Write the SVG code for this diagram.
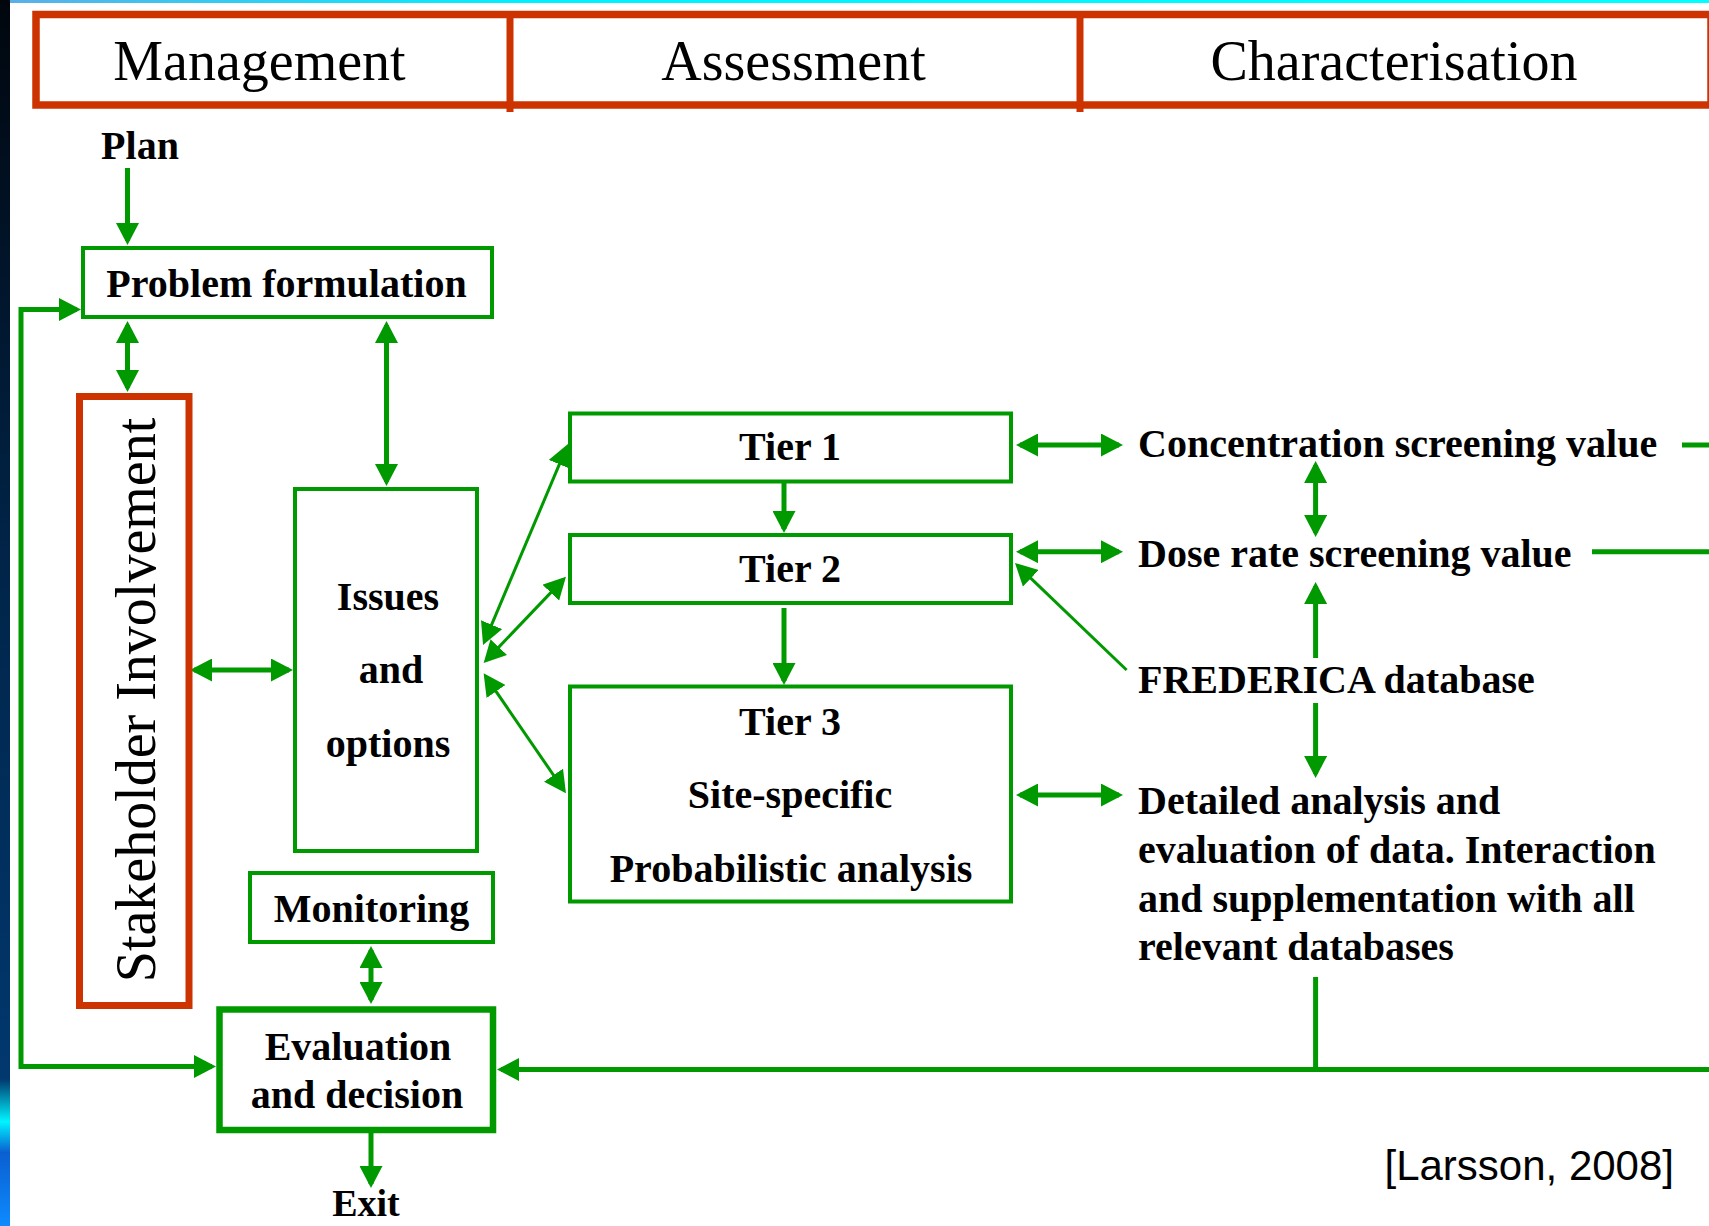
<svg xmlns="http://www.w3.org/2000/svg" width="1709" height="1226" viewBox="0 0 1709 1226">
<style>
.box{fill:#fff;stroke:#009900;stroke-width:4}
.red{fill:none;stroke:#cc3300;stroke-width:7.5}
.t{font-family:"Liberation Serif","Times New Roman",serif;font-weight:bold;font-size:40px;fill:#000}
.tm{text-anchor:middle}
.h{font-family:"Liberation Serif","Times New Roman",serif;font-size:56px;fill:#000;text-anchor:middle}
.c{fill:none;stroke:#009900;stroke-width:5}
.thin{stroke-width:3}
.a1{marker-end:url(#ah)}
.a2{marker-start:url(#ah);marker-end:url(#ah)}
</style>
<defs>
<marker id="ah" viewBox="0 0 22 23" refX="18" refY="11.5" markerWidth="22" markerHeight="23" markerUnits="userSpaceOnUse" orient="auto-start-reverse">
<path d="M0,0 L22,11.5 L0,23 Z" fill="#009900"/>
</marker>
<linearGradient id="lg" x1="0" y1="0" x2="0" y2="1">
<stop offset="0" stop-color="#01060d"/>
<stop offset="0.45" stop-color="#012448"/>
<stop offset="0.88" stop-color="#01386e"/>
<stop offset="0.915" stop-color="#00f4ff"/>
<stop offset="0.94" stop-color="#0a5fd0"/>
<stop offset="1" stop-color="#0d8bff"/>
</linearGradient>
<linearGradient id="tg" x1="0" y1="0" x2="1" y2="0">
<stop offset="0" stop-color="#5ab0e8"/>
<stop offset="0.3" stop-color="#00f0ff"/>
<stop offset="1" stop-color="#00ffff"/>
</linearGradient>
</defs>
<rect x="0" y="0" width="1709" height="1226" fill="#fff"/>
<rect x="10" y="0" width="1699" height="3" fill="url(#tg)"/>
<rect x="0" y="0" width="10" height="1226" fill="url(#lg)"/>

<g id="header">
<rect class="red" x="36" y="14.5" width="1675" height="90.5"/>
<line x1="510" y1="11" x2="510" y2="112" stroke="#cc3300" stroke-width="7"/>
<line x1="1080" y1="11" x2="1080" y2="112" stroke="#cc3300" stroke-width="7"/>
<text class="h" x="259.5" y="80">Management</text>
<text class="h" x="793.5" y="80">Assessment</text>
<text class="h" x="1394" y="80">Characterisation</text>
</g>

<g id="connectors">
<path class="c a1" d="M127.5,168 V241"/>
<path class="c a2" d="M127.5,325 V388"/>
<path class="c a2" d="M386.5,325 V482"/>
<path class="c a2" d="M212,1066.5 H21 V309.5 H77"/>
<path class="c a2" d="M194,670 H289"/>
<path class="c thin a2" d="M484.6,641.3 L566.4,447.7"/>
<path class="c thin a2" d="M486.4,660.1 L563.2,579.6"/>
<path class="c thin a2" d="M485.9,676.6 L563.7,790"/>
<path class="c a1" d="M784,483 V529"/>
<path class="c a1" d="M784,608 V681"/>
<path class="c a2" d="M1020,445 H1119"/>
<path class="c a2" d="M1315.6,465 V533"/>
<path class="c a2" d="M1020,551.7 H1119"/>
<path class="c thin a1" d="M1126.6,670 L1017.9,565.8"/>
<path class="c a1" d="M1315.6,658 V586"/>
<path class="c a1" d="M1315.6,703 V774"/>
<path class="c a2" d="M1020,795 H1119"/>
<path class="c" d="M1682,445 H1712"/>
<path class="c" d="M1592,551.7 H1712"/>
<path class="c a1" d="M1712,1069.5 H501"/>
<path class="c" d="M1315.6,977 V1069.5"/>
<path class="c a2" d="M371,950 V1000"/>
<path class="c a1" d="M371,1133 V1184"/>
</g>

<g id="plan"><text class="t tm" x="140" y="159">Plan</text></g>

<g id="problem-formulation">
<rect class="box" x="83" y="248" width="409" height="69"/>
<text class="t tm" x="286.5" y="297">Problem formulation</text>
</g>

<g id="stakeholder">
<rect class="red" x="79.5" y="396.5" width="109.5" height="609" style="stroke-width:7"/>
<text transform="translate(155,700) rotate(-90)" font-family="'Liberation Serif', 'Times New Roman', serif" font-size="56" text-anchor="middle">Stakeholder Involvement</text>
</g>

<g id="issues">
<rect class="box" x="295" y="489" width="182" height="362"/>
<text class="t tm" x="388" y="610">Issues</text>
<text class="t tm" x="391" y="683">and</text>
<text class="t tm" x="388" y="757">options</text>
</g>

<g id="tier1">
<rect class="box" x="570" y="413.5" width="441" height="68"/>
<text class="t tm" x="790" y="460">Tier 1</text>
</g>

<g id="tier2">
<rect class="box" x="570" y="535" width="441" height="68"/>
<text class="t tm" x="790" y="582">Tier 2</text>
</g>

<g id="tier3">
<rect class="box" x="570" y="686.5" width="441" height="215"/>
<text class="t tm" x="790" y="735">Tier 3</text>
<text class="t tm" x="790" y="808">Site-specific</text>
<text class="t tm" x="791" y="882">Probabilistic analysis</text>
</g>

<g id="monitoring">
<rect class="box" x="250" y="873" width="243" height="69"/>
<text class="t tm" x="371.6" y="921.7">Monitoring</text>
</g>

<g id="evaluation">
<rect class="box" x="219.5" y="1009.5" width="273.5" height="120.5" style="stroke-width:6.5"/>
<text class="t tm" x="358" y="1060">Evaluation</text>
<text class="t tm" x="357" y="1108">and decision</text>
</g>

<g id="exit"><text class="t tm" x="366" y="1216" style="font-size:38px">Exit</text></g>

<g id="concentration"><text class="t" x="1138" y="456.7">Concentration screening value</text></g>
<g id="dose-rate"><text class="t" x="1138" y="566.7">Dose rate screening value</text></g>
<g id="frederica"><text class="t" x="1138" y="693">FREDERICA database</text></g>
<g id="detailed">
<text class="t" x="1138" y="814">Detailed analysis and</text>
<text class="t" x="1138" y="863">evaluation of data. Interaction</text>
<text class="t" x="1138" y="912">and supplementation with all</text>
<text class="t" x="1138" y="960">relevant databases</text>
</g>

<g id="citation"><text x="1674" y="1180" font-family="'Liberation Sans', Arial, sans-serif" font-size="42" text-anchor="end">[Larsson, 2008]</text></g>
</svg>
